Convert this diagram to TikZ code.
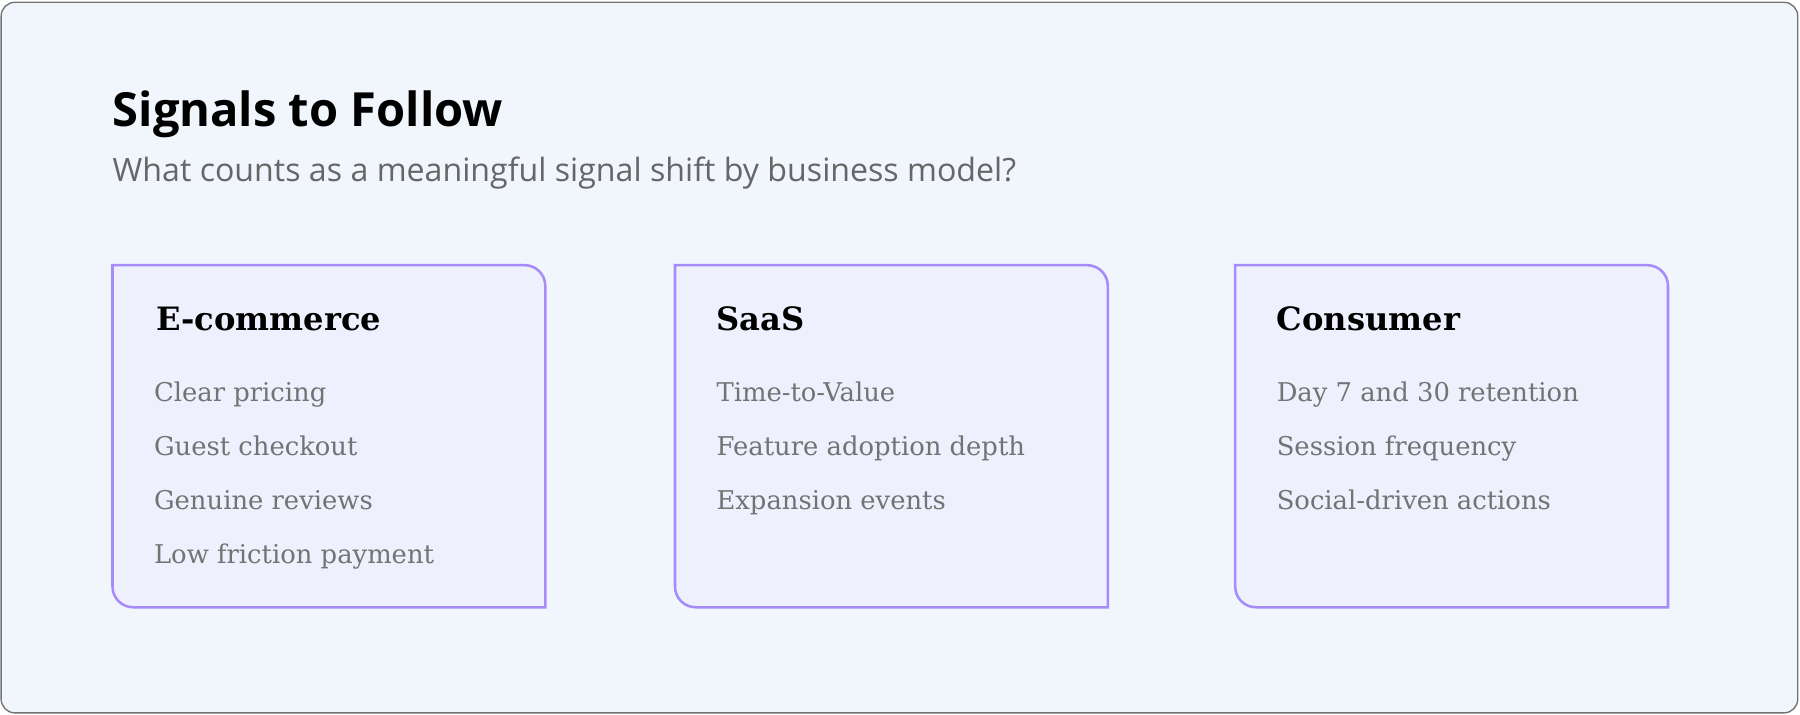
\documentclass[tikz,border=0pt]{standalone}
\usepackage{fontspec}
\setmainfont{DejaVu Serif}
\newfontfamily\headfont{Open Sans}
\definecolor{bg}{HTML}{F1F6FD}
\definecolor{cardfill}{HTML}{EEF0FD}
\definecolor{cardline}{HTML}{A78BFA}
\definecolor{itemgray}{HTML}{737373}
\definecolor{subgray}{HTML}{666666}
\begin{document}
\begin{tikzpicture}[x=1pt,y=1pt,
  card/.style={draw=cardline,fill=cardfill,line width=2.2pt},
  ctitle/.style={anchor=base west,inner sep=0,font=\bfseries\fontsize{28}{34}\selectfont,text=black},
  item/.style={anchor=base west,inner sep=0,font=\fontsize{22.5}{26}\selectfont,text=itemgray}]
\useasboundingbox (0,0) rectangle (1568,622);
\draw[fill=bg,draw=gray!90!black,line width=1.2pt,rounded corners=12] (1,1) rectangle (1566,620);
\node[anchor=base west,inner sep=0,font=\headfont\bfseries\fontsize{41}{46}\selectfont] (title) at (98,512) {Signals to Follow};
\node[anchor=base west,inner sep=0,font=\headfont\fontsize{28}{32}\selectfont,text=subgray] (sub) at (98,464) {What counts as a meaningful signal shift by business model?};
\foreach \x/\n in {98/a,588/b,1076/c}{
  \draw[card] (\x,391) -- ({\x+377-18},391) arc[start angle=90,end angle=0,radius=18] -- ({\x+377},93) -- ({\x+18},93) arc[start angle=270,end angle=180,radius=18] -- cycle;
}
\node[ctitle] (ta) at (136,334) {E-commerce};
\node[item] (a1) at (134,272) {Clear pricing};
\node[item] (a2) at (134,225) {Guest checkout};
\node[item] (a3) at (134,178) {Genuine reviews};
\node[item] (a4) at (134,131) {Low friction payment};
\node[ctitle] (tb) at (624,334) {SaaS};
\node[item] (b1) at (624,272) {Time-to-Value};
\node[item] (b2) at (624,225) {Feature adoption depth};
\node[item] (b3) at (624,178) {Expansion events};
\node[ctitle] (tc) at (1112,334) {Consumer};
\node[item] (c1) at (1112,272) {Day 7 and 30 retention};
\node[item] (c2) at (1112,225) {Session frequency};
\node[item] (c3) at (1112,178) {Social-driven actions};
\end{tikzpicture}
\end{document}
